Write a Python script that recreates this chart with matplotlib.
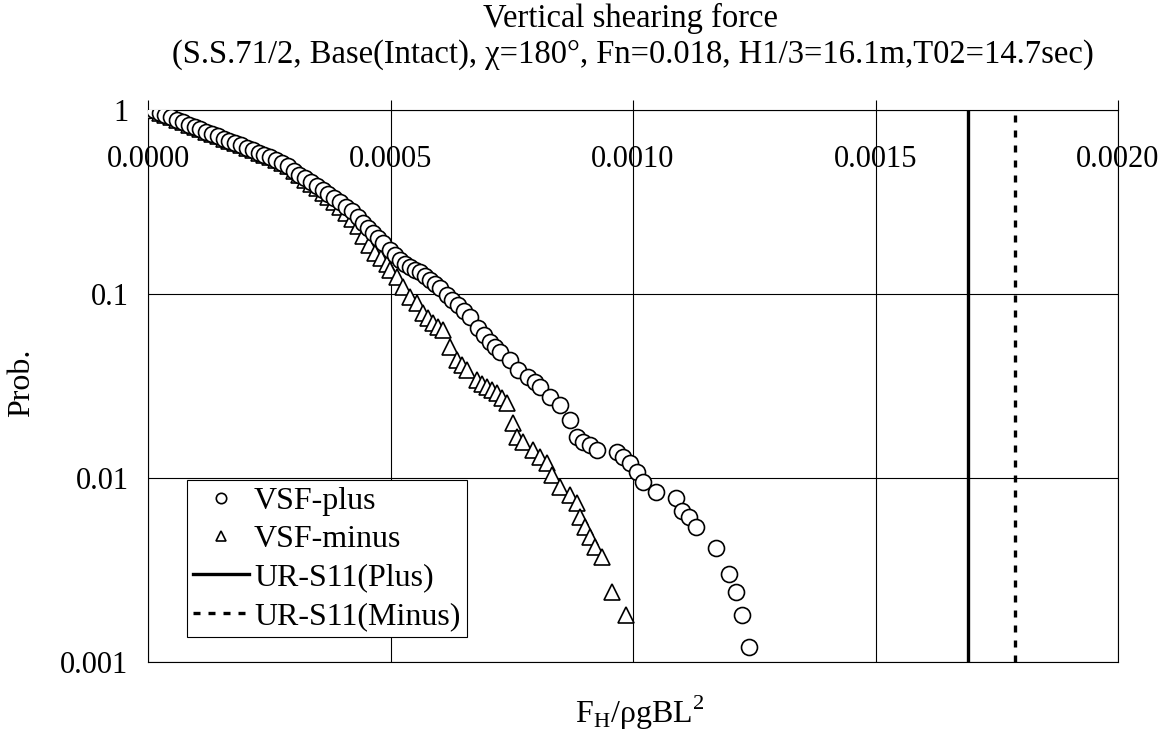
import numpy as np
import matplotlib
matplotlib.use("Agg")
import matplotlib.pyplot as plt

plt.rcParams["font.family"] = ["Liberation Serif", "DejaVu Serif"]
plt.rcParams["mathtext.fontset"] = "custom"
plt.rcParams["mathtext.rm"] = "Liberation Serif"

# exceedance curves (x in units of 1e-3)
x_plus = np.array([
    0.000, 0.012, 0.024, 0.036, 0.048, 0.060, 0.072, 0.084, 0.096, 0.108,
    0.120, 0.132, 0.144, 0.156, 0.168, 0.180, 0.192, 0.204, 0.216, 0.228,
    0.240, 0.252, 0.264, 0.276, 0.288, 0.300, 0.312, 0.324, 0.336, 0.348,
    0.360, 0.372, 0.384, 0.396, 0.408, 0.420, 0.433, 0.443, 0.454, 0.464,
    0.474, 0.485, 0.499, 0.509, 0.520, 0.530, 0.540, 0.551, 0.561, 0.571,
    0.581, 0.592, 0.602, 0.616, 0.627, 0.639, 0.652, 0.664, 0.680, 0.693,
    0.705, 0.716, 0.726, 0.746, 0.763, 0.784, 0.797, 0.808, 0.829, 0.849,
    0.870, 0.885, 0.897, 0.911, 0.926, 0.967, 0.979, 0.994, 1.008, 1.021,
    1.047, 1.089, 1.101, 1.115, 1.130, 1.171, 1.198, 1.212, 1.225, 1.239]) * 1e-3
p_plus = [
    1.000, 0.995, 0.966, 0.938, 0.911, 0.885, 0.857, 0.832, 0.809, 0.785,
    0.762, 0.741, 0.721, 0.700, 0.680, 0.663, 0.642, 0.624, 0.605, 0.587,
    0.571, 0.555, 0.537, 0.515, 0.494, 0.468, 0.443, 0.425, 0.405, 0.385,
    0.368, 0.350, 0.332, 0.315, 0.298, 0.282, 0.262, 0.243, 0.228, 0.215,
    0.201, 0.189, 0.173, 0.163, 0.153, 0.146, 0.140, 0.135, 0.132, 0.125,
    0.119, 0.113, 0.108, 0.0988, 0.0927, 0.0871, 0.0809, 0.0750, 0.0653, 0.0598,
    0.0548, 0.0515, 0.0484, 0.0438, 0.0386, 0.0354, 0.0333, 0.0312, 0.0275, 0.0249,
    0.0207, 0.0167, 0.0157, 0.0151, 0.0142, 0.0138, 0.0130, 0.0121, 0.0108, 0.0095,
    0.0084, 0.0078, 0.0066, 0.0061, 0.0054, 0.00417, 0.0030, 0.0024, 0.0018, 0.00121]

x_minus = np.array([
    0.000, 0.012, 0.024, 0.036, 0.048, 0.060, 0.072, 0.084, 0.096, 0.108,
    0.120, 0.132, 0.144, 0.156, 0.168, 0.180, 0.192, 0.204, 0.216, 0.228,
    0.240, 0.252, 0.264, 0.276, 0.288, 0.300, 0.312, 0.324, 0.336, 0.348,
    0.360, 0.372, 0.384, 0.396, 0.408, 0.420, 0.432, 0.444, 0.456, 0.468,
    0.480, 0.492, 0.499, 0.513, 0.526, 0.540, 0.555, 0.567, 0.578, 0.588,
    0.598, 0.608, 0.623, 0.637, 0.648, 0.658, 0.678, 0.689, 0.699, 0.710,
    0.720, 0.730, 0.740, 0.753, 0.761, 0.773, 0.794, 0.808, 0.823, 0.833,
    0.849, 0.870, 0.885, 0.891, 0.901, 0.911, 0.922, 0.936, 0.957, 0.986]) * 1e-3
p_minus = [
    1.000, 0.995, 0.966, 0.938, 0.911, 0.885, 0.857, 0.832, 0.809, 0.785,
    0.762, 0.741, 0.721, 0.700, 0.680, 0.663, 0.642, 0.624, 0.605, 0.587,
    0.571, 0.555, 0.537, 0.515, 0.494, 0.468, 0.443, 0.419, 0.396, 0.375,
    0.354, 0.335, 0.316, 0.297, 0.276, 0.257, 0.234, 0.207, 0.185, 0.167,
    0.157, 0.146, 0.135, 0.124, 0.109, 0.0963, 0.0893, 0.0788, 0.0740, 0.0696,
    0.0665, 0.0637, 0.0515, 0.0438, 0.0410, 0.0386, 0.0341, 0.0325, 0.0312, 0.0300,
    0.0290, 0.0272, 0.0256, 0.0199, 0.0167, 0.0157, 0.0142, 0.0130, 0.0121, 0.0104,
    0.0089, 0.0081, 0.0073, 0.0061, 0.0054, 0.0048, 0.0042, 0.0037, 0.0024, 0.0018]

ur_plus = 0.001691
ur_minus = 0.001788

x_ticks = [0.0, 0.0005, 0.0010, 0.0015, 0.0020]
y_ticks = [0.001, 0.01, 0.1, 1]
y_ticklabels = ["0.001", "0.01", "0.1", "1"]

fig = plt.figure(figsize=(11.63, 7.42), dpi=100)
ax = fig.add_axes([148/1163, 1-662/742, 970/1163, 552/742])
ax.set_yscale("log")
ax.set_xlim(0, 0.002); ax.set_ylim(0.001, 1)

ax.plot(x_minus, p_minus, ls="none", marker="^", ms=12, mfc="white", mec="black", mew=1.2,
        label="VSF-minus", zorder=3)
ax.plot(x_plus, p_plus, ls="none", marker="o", ms=11.5, mfc="white", mec="black", mew=1.2,
        label="VSF-plus", zorder=4)
ax.axvline(ur_plus, color="black", lw=2.4, label="UR-S11(Plus)", zorder=2)
ax.axvline(ur_minus, color="black", lw=2.4, dashes=(2.1, 2.4), label="UR-S11(Minus)", zorder=2)

ax.set_xticks(x_ticks); ax.set_xticklabels([f"{v:.4f}" for v in x_ticks])
ax.set_yticks(y_ticks); ax.set_yticklabels(y_ticklabels)
ax.minorticks_off()
ax.tick_params(axis="x", top=True, bottom=False, labeltop=True, labelbottom=False,
               direction="out", length=7, width=0.8, pad=-53, labelsize=22)
ax.tick_params(axis="y", length=0, pad=14, labelsize=22)
ax.grid(True, color="black", lw=0.8)
for s in ax.spines.values():
    s.set_linewidth(0.8)

h, l = ax.get_legend_handles_labels()
order = [1, 0, 2, 3]
leg = ax.legend([h[i] for i in order], [l[i] for i in order], loc="lower left",
                bbox_to_anchor=(0.040, 0.045), borderaxespad=0, fontsize=23,
                markerscale=0.65, handlelength=1.75, handletextpad=0.15,
                labelspacing=0.28, borderpad=0.2, fancybox=False, framealpha=1)
leg.get_frame().set_edgecolor("black"); leg.get_frame().set_linewidth(0.8)

fig.text(630/1163, 1-18/742, "Vertical shearing force", ha="center", va="center", fontsize=23.5)
fig.text(633/1163, 1-55/742, "(S.S.71/2, Base(Intact), \u03c7=180\u00b0, Fn=0.018, H1/3=16.1m,T02=14.7sec)",
         ha="center", va="center", fontsize=23.5)
fig.text(640/1163, 1-713/742, "F$_\\mathregular{H}$/\u03c1gBL$^\\mathregular{2}$",
         ha="center", va="center", fontsize=23)
fig.text(22/1163, 1-383/742, "Prob.", rotation=90, ha="center", va="center", fontsize=23)

fig.savefig("out.png", dpi=100)
